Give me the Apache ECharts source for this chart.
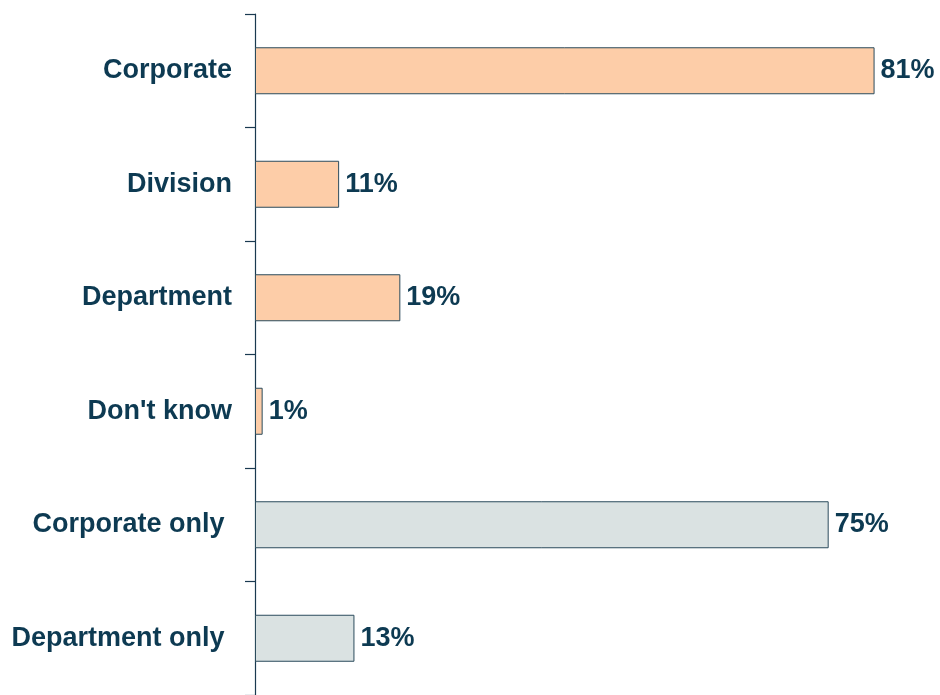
<!DOCTYPE html>
<html>
<head>
<meta charset="utf-8">
<script src="https://cdn.jsdelivr.net/npm/echarts@6/dist/echarts.min.js"></script>
<style>
  html, body { margin: 0; padding: 0; background: #fff; }
  #chart { width: 940px; height: 695px; }
</style>
</head>
<body>
<div id="chart"></div>
<script>
// categories top to bottom
var categories = ['Corporate', 'Division', 'Department', "Don't know", 'Corporate only ', 'Department only '];
var values = [81, 11, 19, 1, 75, 13];
var groups = ['a', 'a', 'a', 'a', 'b', 'b'];

(function () {
  var myChart = echarts.init(document.getElementById('chart'));
  var fills = { a: '#FDCDA8', b: '#DAE2E2' };
  var textColor = '#0D3A52';
  var font = "'Liberation Sans', Arial, sans-serif";

  var option = {
    animation: false,
    grid: { left: 255, top: 14, width: 680, height: 684 },
    xAxis: {
      type: 'value',
      min: 0,
      max: 88.9,
      show: false
    },
    yAxis: {
      type: 'category',
      inverse: true,
      data: categories,
      axisLine: { show: true, lineStyle: { color: '#1A3A50', width: 1.2 } },
      axisTick: { show: true, length: 10, lineStyle: { color: '#1A3A50', width: 1.2 } },
      axisLabel: {
        margin: 23,
        color: textColor,
        fontFamily: font,
        fontWeight: 'bold',
        fontSize: 27
      }
    },
    series: [
      {
        type: 'bar',
        barWidth: 47,
        data: values.map(function (v, i) {
          return {
            value: v,
            itemStyle: { color: fills[groups[i]], borderColor: '#2B4B5C', borderWidth: 1 }
          };
        }),
        label: {
          show: true,
          position: 'right',
          distance: 6,
          formatter: '{c}%',
          color: textColor,
          fontFamily: font,
          fontWeight: 'bold',
          fontSize: 27
        }
      }
    ]
  };
  myChart.setOption(option);
})();
</script>
</body>
</html>
